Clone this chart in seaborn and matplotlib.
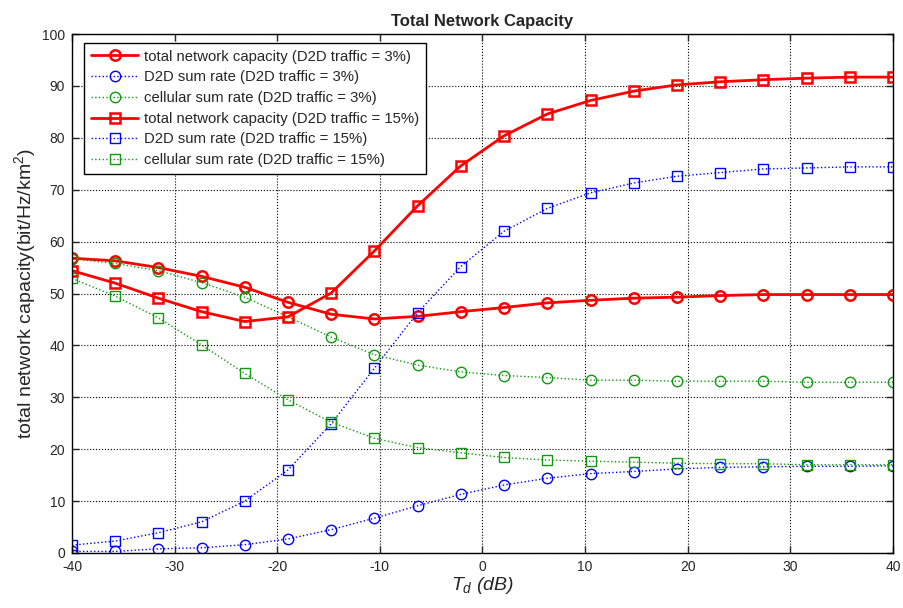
import matplotlib
matplotlib.use("Agg")
import matplotlib.pyplot as plt
import seaborn as sns
import pandas as pd

td = [-40.0, -35.79, -31.58, -27.37, -23.16, -18.95, -14.74, -10.53, -6.32, -2.11,
      2.11, 6.32, 10.53, 14.74, 18.95, 23.16, 27.37, 31.58, 35.79, 40.0]

total_3 = [56.8, 56.3, 55.0, 53.3, 51.2, 48.3, 46.0, 45.1, 45.6, 46.5,
           47.3, 48.2, 48.7, 49.1, 49.3, 49.6, 49.8, 49.8, 49.8, 49.8]
d2d_3 = [0.3, 0.3, 0.8, 1.0, 1.6, 2.7, 4.5, 6.7, 9.1, 11.3,
         13.1, 14.4, 15.3, 15.7, 16.2, 16.5, 16.6, 16.7, 16.7, 16.8]
cell_3 = [56.7, 55.8, 54.4, 52.1, 49.3, 45.5, 41.6, 38.2, 36.2, 34.9,
          34.2, 33.8, 33.3, 33.3, 33.1, 33.1, 33.1, 32.9, 32.9, 32.9]
total_15 = [54.4, 52.0, 49.1, 46.5, 44.6, 45.5, 50.1, 58.2, 66.9, 74.6,
            80.4, 84.6, 87.2, 89.0, 90.2, 90.8, 91.2, 91.5, 91.7, 91.7]
d2d_15 = [1.5, 2.3, 3.9, 6.0, 10.0, 16.0, 24.9, 35.6, 46.3, 55.2,
          62.0, 66.4, 69.4, 71.3, 72.6, 73.3, 74.0, 74.2, 74.4, 74.4]
cell_15 = [52.9, 49.5, 45.3, 40.1, 34.6, 29.5, 25.2, 22.1, 20.3, 19.3,
           18.4, 17.9, 17.7, 17.5, 17.3, 17.2, 17.2, 17.0, 17.0, 17.0]

labels = ["total network capacity (D2D traffic = 3%)",
          "D2D sum rate (D2D traffic = 3%)",
          "cellular sum rate (D2D traffic = 3%)",
          "total network capacity (D2D traffic = 15%)",
          "D2D sum rate (D2D traffic = 15%)",
          "cellular sum rate (D2D traffic = 15%)"]
series = [total_3, d2d_3, cell_3, total_15, d2d_15, cell_15]

sns.set_style("white")
plt.rcParams['font.family'] = ['Liberation Sans', 'DejaVu Sans']
plt.rcParams['axes.unicode_minus'] = False
plt.rcParams['mathtext.fontset'] = 'custom'
plt.rcParams['mathtext.rm'] = 'Liberation Sans'
plt.rcParams['mathtext.it'] = 'Liberation Sans:italic'

fig = plt.figure(figsize=(9.04, 6.08), dpi=100)
ax = fig.add_axes([0.0796, 0.0905, 0.9082, 0.8535])

styles = [
    dict(color="red", linestyle="-", marker="o", lw=2.0, mew=1.8),
    dict(color="blue", linestyle=":", marker="o", lw=1.0, mew=1.0),
    dict(color="#119911", linestyle=":", marker="o", lw=1.0, mew=1.0),
    dict(color="red", linestyle="-", marker="s", lw=2.0, mew=1.8),
    dict(color="blue", linestyle=":", marker="s", lw=1.0, mew=1.0),
    dict(color="#119911", linestyle=":", marker="s", lw=1.0, mew=1.0),
]

for lab, ys, st in zip(labels, series, styles):
    df = pd.DataFrame({"x": td, "y": ys})
    sns.lineplot(data=df, x="x", y="y", ax=ax, label=lab,
                 color=st["color"], linestyle=st["linestyle"], linewidth=st["lw"],
                 marker=st["marker"], markersize=7.5, markerfacecolor="none",
                 markeredgecolor=st["color"], markeredgewidth=st["mew"],
                 dashes=False)

ax.set_xlim(-40, 40)
ax.set_ylim(0, 100)
ax.set_xticks(range(-40, 41, 10))
ax.set_yticks(range(0, 101, 10))
ax.grid(True, color="black", linestyle=":", linewidth=0.8)
ax.tick_params(direction="in", top=True, right=True, labelsize=10, length=5, width=1,
               bottom=True, left=True)
ax.tick_params(axis="x", pad=5)
ax.tick_params(axis="y", pad=5)
for sp in ax.spines.values():
    sp.set_color("black")
    sp.set_linewidth(1.0)

ax.set_title("Total Network Capacity", fontsize=12, fontweight="bold", pad=6)
ax.set_xlabel(r"$T_d$ (dB)", fontsize=14, fontstyle="italic", labelpad=1)
ax.set_ylabel(r"total network capacity(bit/Hz/km$^2$)", fontsize=14, labelpad=3)

leg = ax.legend(loc="upper left", bbox_to_anchor=(0.0146, 0.983), borderaxespad=0,
                fontsize=10.75,
                frameon=True, fancybox=False, edgecolor="black", framealpha=1,
                handlelength=3.2, handletextpad=0.4, borderpad=0.45, labelspacing=0.45)
leg.get_frame().set_linewidth(1.0)

fig.savefig("out.png", dpi=100)
